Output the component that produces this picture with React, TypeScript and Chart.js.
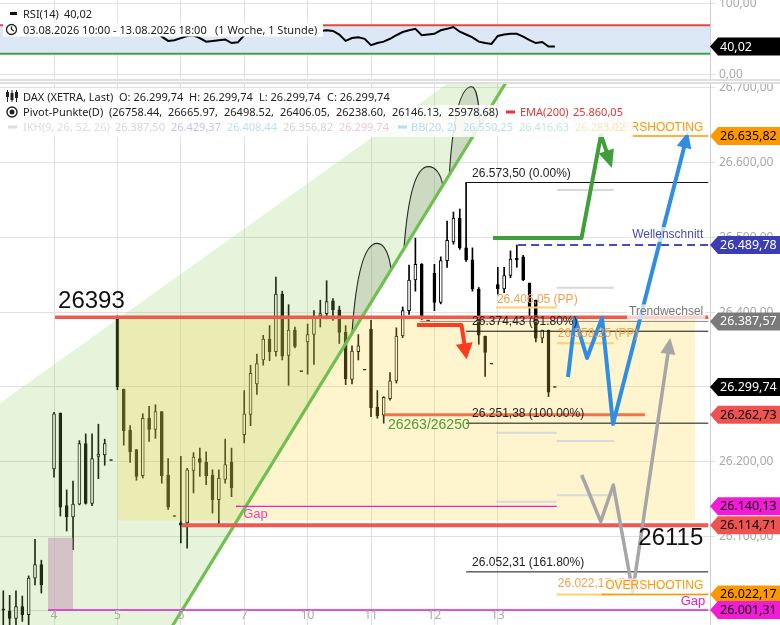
import React, { useEffect, useRef } from "react";
import { Chart, registerables } from "chart.js";

Chart.register(...registerables);

const SANS = '"Noto Sans", "Open Sans", sans-serif';
const ARIAL = '"Liberation Sans", Arial, sans-serif';

// ---------- axes ----------
const DAY_SLOTS = [10, 20, 30, 40, 50, 60, 70, 80];
const DAY_LABELS = ["4", "5", "6", "7", "10", "11", "12", "13"];
const PRICE_TICKS = [26000, 26100, 26200, 26300, 26400, 26500, 26600, 26700];
const RSI_TICKS = [0, 100];
const X_MIN = 1.48;
const X_MAX = 113.47;
const P_MIN = 25981.22;
const P_MAX = 26705.35;
const R_MIN = -4.23;
const R_MAX = 105.63;

// ---------- hourly candles (10 slots per trading day) ----------
const SLOTS = [2, 3, 4, 5, 6, 7, 8,
  10, 11, 12, 13, 14, 15, 16, 17, 18, 19,
  20, 21, 22, 23, 24, 25, 26, 27, 28, 29,
  30, 31, 32, 33, 34, 35, 36, 37, 38, 39,
  40, 41, 42, 43, 44, 45, 46, 47, 48, 49,
  50, 51, 52, 53, 54, 55, 56, 57, 58, 59,
  60, 61, 62, 63, 64, 65, 66, 67, 68, 69,
  70, 71, 72, 73, 74, 75, 76, 77, 78, 79,
  80, 81, 82, 83, 84, 85, 86, 87, 88, 89];
const OPEN = [26003, 26000, 25990, 26006, 25995, 26044, 26062,
  26190, 26265, 26141, 26126, 26143, 26224, 26144, 26207, 26209, 26202,
  26393, 26297, 26242, 26216, 26181, 26258, 26243, 26267, 26182, 26127,
  26118, 26118, 26188, 26204, 26199, 26182, 26149, 26176, 26199, 26140,
  26236, 26263, 26304, 26336, 26364, 26347, 26424, 26342, 26376, 26321,
  26360, 26370, 26395, 26398, 26415, 26403, 26373, 26310, 26347, 26323,
  26377, 26273, 26262, 26284, 26308, 26368, 26402, 26443, 26464, 26389,
  26452, 26413, 26469, 26494, 26526, 26486, 26470, 26431, 26368, 26331,
  26437, 26431, 26449, 26472, 26474, 26439, 26416, 26365, 26376, 26299.74];
const HIGH = [26027, 26021, 26027, 26020, 26047, 26096, 26068,
  26266, 26265, 26162, 26174, 26228, 26237, 26237, 26250, 26230, 26202,
  26395, 26297, 26248, 26216, 26264, 26274, 26276, 26267, 26204, 26127,
  26207, 26191, 26212, 26218, 26213, 26189, 26189, 26230, 26218, 26140,
  26295, 26329, 26344, 26369, 26382, 26447, 26428, 26410, 26380, 26321,
  26384, 26402, 26416, 26442, 26418, 26408, 26382, 26355, 26370, 26323,
  26389, 26295, 26287, 26319, 26379, 26407, 26463, 26499, 26465, 26389,
  26464, 26474, 26522, 26534, 26538, 26573.5, 26486, 26433, 26368, 26331,
  26460, 26460, 26482, 26489.78, 26476, 26439, 26416, 26376, 26376, 26299.74];
const LOW = [25978, 25978, 25978, 25986, 25978, 26035, 26024,
  26179, 26127, 26107, 26082, 26142, 26143, 26141, 26177, 26195, 26202,
  26296, 26222, 26199, 26175, 26178, 26227, 26231, 26171, 26136, 26127,
  26091, 26084, 26158, 26180, 26169, 26131, 26113, 26171, 26153, 26140,
  26225, 26248, 26290, 26329, 26335, 26341, 26336, 26302, 26352, 26321,
  26317, 26330, 26380, 26391, 26389, 26358, 26303, 26304, 26336, 26323,
  26260, 26258, 26251.38, 26282, 26305, 26366, 26397, 26428, 26390, 26389,
  26402, 26411, 26460, 26491, 26484, 26468, 26428, 26357, 26314, 26331,
  26424, 26426, 26446, 26460, 26442, 26394, 26360, 26359, 26287, 26299.74];
const CLOSE = [26001, 25990, 26006, 25995, 26044, 26062, 26035,
  26264, 26139, 26126, 26143, 26224, 26144, 26204, 26210, 26224, 26202,
  26300, 26241, 26213, 26180, 26258, 26243, 26267, 26181, 26139, 26127,
  26115, 26189, 26206, 26199, 26181, 26149, 26178, 26196, 26165, 26140,
  26264, 26318, 26331, 26364, 26347, 26424, 26341, 26376, 26354, 26321,
  26370, 26393, 26398, 26414, 26403, 26373, 26311, 26348, 26355, 26323,
  26272, 26261, 26286, 26308, 26368, 26402, 26443, 26464, 26393, 26389,
  26413, 26469, 26496, 26526, 26486, 26470, 26431, 26369, 26346, 26331,
  26431, 26449, 26471, 26470, 26443, 26407, 26365, 26376, 26293, 26299.74];
const RSI = [62, 60, 62, 60, 64, 66, 63,
  68, 58, 57, 58, 62, 58, 61, 62, 63, 62,
  70, 64, 60, 57, 62, 60, 62, 54, 48, 49,
  52, 55, 56, 52, 47, 48, 49, 50, 45, 46,
  56, 60, 62, 65, 63, 68, 60, 62, 60, 58,
  59, 61, 62, 63, 62, 57, 48, 52, 53, 51,
  42, 45, 47, 51, 56, 60.5, 63, 65, 56, 57,
  58, 63, 65, 67.6, 61, 57, 53, 47, 45, 43.7,
  55, 57, 58, 58, 54, 49, 45, 46.5, 40, 40.02];

// ---------- drawn levels / annotations (slot, price) ----------
const EDGE = 113.2;
const RESIST = 26393;
const GAP_TOP = 26140.13;
const GAP_LINE = 26114.71;
const GAP_LOW = 26001.31;
const SUPPORT = 26262.73;
const WELLEN = 26489.78;
const TREND_W = 26387.57;
const UEBER = 26635.82;
const OVER = 26022.17;
const LAST = 26299.74;
const FIB_PRICES = [26573.5, 26374.43, 26251.38, 26052.31];
const FIB_PCT = ["0.00%", "61.80%", "100.00%", "161.80%"];
const PIVOT_D13 = [26498.52, 26406.05, 26238.6, 26146.13];
const PIVOT_NEXT = [26563.6, 26432.7, 26358.25, 26227.5, 26155.0, 26022.17];
const CHANNEL = [[-5, 26239], [80, 26754], [84.66, 26754], [26.51, 25950], [-5, 25950]];
const TREND = [[26.51, 25950], [84.66, 26754]];
const ZONE = [20.1, 111.1, 26393, 26121];
const GAP_BOX = [9.05, 13.0, 26098, 26001.31];
const ARCS = [[57.0, 60.95, 26492, 63.15], [65.2, 69.04, 26594.7, 71.31], [72.35, 75.88, 26701.7, 77.19]];
const RED_ARROW = [[67.26, 26382.8], [74.27, 26382.8], [75.09, 26336.9]];
const GREEN_ARROW = [[79.24, 26499.2], [93.2, 26499.2], [96.28, 26637.1], [98.0, 26592.9]];
const BLUE_ARROW = [[91.07, 26313.2], [92.18, 26392.1], [94.07, 26338.6], [96.44, 26392.1], [98.17, 26250.3], [110.0, 26641.1]];
const GRAY_ARROW = [[93.23, 26182], [96.23, 26119.5], [98.22, 26168.6], [101.28, 26025.8], [107.2, 26365.4]];
const TAGS = [
  [UEBER, "#ff9800", "#000"],
  [WELLEN, "#3d3db3", "#fff"],
  [TREND_W, "#7a7a7a", "#fff"],
  [LAST, "#000000", "#fff"],
  [SUPPORT, "#ef5350", "#000"],
  [GAP_TOP, "#f21bd6", "#000"],
  [GAP_LINE, "#ef5350", "#000"],
  [OVER, "#ff9800", "#000"],
  [GAP_LOW, "#f21bd6", "#000"],
];
const RSI_LAST = 40.02;

function fmtDE(v: number) {
  const parts = v.toFixed(2).split(".");
  return parts[0].replace(/\B(?=(\d{3})+(?!\d))/g, ".") + "," + parts[1];
}

function txt(ctx: any, s: string, x: number, y: number, color: string, font: string, align = "left") {
  ctx.font = font;
  ctx.fillStyle = color;
  ctx.textAlign = align;
  ctx.textBaseline = "alphabetic";
  ctx.fillText(s, x, y);
}

function bgTxt(ctx: any, s: string, xr: number, y: number, color: string, font: string) {
  ctx.font = font;
  const w = ctx.measureText(s).width;
  ctx.fillStyle = "rgba(255,255,255,0.72)";
  ctx.fillRect(xr - w - 2, y - 11, w + 4, 15);
  txt(ctx, s, xr, y, color, font, "right");
}

function hline(ctx: any, x0: number, x1: number, y: number, color: string, w: number, dash: number[] = []) {
  ctx.strokeStyle = color;
  ctx.lineWidth = w;
  ctx.setLineDash(dash);
  ctx.beginPath();
  ctx.moveTo(x0, y);
  ctx.lineTo(x1, y);
  ctx.stroke();
  ctx.setLineDash([]);
}

function arrow(ctx: any, pts: number[][], color: string, w: number, hl: number, hw: number) {
  const n = pts.length;
  const [tx, ty] = pts[n - 1];
  const [px, py] = pts[n - 2];
  const a = Math.atan2(ty - py, tx - px);
  const c = Math.cos(a), s = Math.sin(a);
  ctx.strokeStyle = color;
  ctx.lineWidth = w;
  ctx.lineJoin = "round";
  ctx.lineCap = "butt";
  ctx.beginPath();
  ctx.moveTo(pts[0][0], pts[0][1]);
  for (let i = 1; i < n - 1; i++) ctx.lineTo(pts[i][0], pts[i][1]);
  ctx.lineTo(tx - c * hl * 0.85, ty - s * hl * 0.85);
  ctx.stroke();
  ctx.fillStyle = color;
  ctx.beginPath();
  ctx.moveTo(tx, ty);
  ctx.lineTo(tx - c * hl + s * hw / 2, ty - s * hl - c * hw / 2);
  ctx.lineTo(tx - c * hl - s * hw / 2, ty - s * hl + c * hw / 2);
  ctx.closePath();
  ctx.fill();
}

function tag(ctx: any, x0: number, y: number, bg: string, fg: string, s: string) {
  ctx.fillStyle = bg;
  ctx.beginPath();
  ctx.moveTo(x0, y);
  ctx.lineTo(x0 + 8, y - 9);
  ctx.lineTo(780, y - 9);
  ctx.lineTo(780, y + 9);
  ctx.lineTo(x0 + 8, y + 9);
  ctx.closePath();
  ctx.fill();
  ctx.fillStyle = fg;
  ctx.font = `12.5px ${SANS}`;
  ctx.textAlign = "left";
  ctx.textBaseline = "middle";
  ctx.fillText(s, x0 + 10, y + 0.5);
}

const trendAt = (slot: number) =>
  TREND[0][1] + (slot - TREND[0][0]) * (TREND[1][1] - TREND[0][1]) / (TREND[1][0] - TREND[0][0]);

const mainOverlay = {
  id: "mainOverlay",
  afterDatasetsDraw(chart: any) {
    const { ctx, chartArea: ca } = chart;
    const xs = chart.scales.x, ys = chart.scales.y;
    const X = (v: number) => xs.getPixelForValue(v);
    const Y = (v: number) => ys.getPixelForValue(v);
    const P = (pts: number[][]) => pts.map((p) => [X(p[0]), Y(p[1])]);
    const R = X(EDGE);
    ctx.save();
    ctx.beginPath();
    ctx.rect(ca.left, ca.top, ca.right - ca.left, ca.bottom - ca.top);
    ctx.clip();

    // channel
    ctx.fillStyle = "rgba(136,204,91,0.22)";
    ctx.beginPath();
    P(CHANNEL).forEach((p, i) => (i ? ctx.lineTo(p[0], p[1]) : ctx.moveTo(p[0], p[1])));
    ctx.closePath();
    ctx.fill();
    // yellow zone
    ctx.fillStyle = "rgba(250,215,60,0.25)";
    ctx.fillRect(X(ZONE[0]), Y(ZONE[2]), X(ZONE[1]) - X(ZONE[0]), Y(ZONE[3]) - Y(ZONE[2]));
    // gap box
    ctx.fillStyle = "rgba(200,160,185,0.6)";
    ctx.fillRect(X(GAP_BOX[0]), Y(GAP_BOX[2]), X(GAP_BOX[1]) - X(GAP_BOX[0]), Y(GAP_BOX[3]) - Y(GAP_BOX[2]));

    // arcs
    ARCS.forEach(([s0, sp, pp, s1]) => {
      const Sx = X(s0), Sy = Y(trendAt(s0));
      const Px = X(sp), Py = Y(pp);
      const Ex = X(s1), Ey = Y(trendAt(s1));
      ctx.beginPath();
      ctx.moveTo(Sx, Sy);
      ctx.bezierCurveTo(Sx + 0.15 * (Px - Sx), Sy - 0.6 * (Sy - Py), Px - 0.55 * (Px - Sx), Py, Px, Py);
      ctx.bezierCurveTo(Px + 0.55 * (Ex - Px), Py, Ex - 0.1 * (Ex - Px), Ey - 0.55 * (Ey - Py), Ex, Ey);
      ctx.fillStyle = "rgba(95,110,80,0.2)";
      ctx.strokeStyle = "#222";
      ctx.lineWidth = 1.1;
      ctx.stroke();
      ctx.closePath();
      ctx.fill();
    });
    // trendline
    const T = P(TREND);
    ctx.strokeStyle = "#6fc050";
    ctx.lineWidth = 3.2;
    ctx.beginPath();
    ctx.moveTo(T[0][0], T[0][1]);
    ctx.lineTo(T[1][0], T[1][1]);
    ctx.stroke();

    // pivot lines
    PIVOT_D13.forEach((p, i) => hline(ctx, X(79.7), X(89.3), Y(p), i === 1 ? "#ffcf70" : "#d9d9d9", 2));
    PIVOT_NEXT.forEach((p, i) => hline(ctx, X(89.3), X(98.3), Y(p), i === 2 || i === 5 ? "#ffcf70" : "#d9d9d9", 2));

    // fib lines
    FIB_PRICES.forEach((p) => hline(ctx, X(75), R, Y(p), "#111", 1));
    hline(ctx, X(67.7), R, Y(TREND_W), "#8a8a8a", 1);

    // levels
    hline(ctx, X(10.16), R, Y(RESIST), "#ef5a4d", 3.5);
    hline(ctx, X(30.2), R, Y(GAP_LINE), "#ef5a4d", 4);
    hline(ctx, X(38.9), X(89.3), Y(GAP_TOP), "#ee22cc", 1.3);
    hline(ctx, X(9.05), R, Y(GAP_LOW), "#e01ed0", 1.6);
    hline(ctx, X(62.2), X(103.2), Y(SUPPORT), "#f2744f", 3);
    hline(ctx, X(100.9), R, Y(UEBER), "#ff9800", 1.6);
    hline(ctx, X(96.4), R, Y(OVER), "#ff9800", 1.6);
    hline(ctx, X(83.2), R, Y(WELLEN), "#4848c8", 2, [8, 5]);

    // arrows
    arrow(ctx, P(RED_ARROW), "#ff3b1f", 4, 16, 17);
    arrow(ctx, P(GREEN_ARROW), "#3f9f3a", 4, 18, 16);
    arrow(ctx, P(BLUE_ARROW), "#2f8de4", 4, 16, 15);
    arrow(ctx, P(GRAY_ARROW), "#a6a6a6", 3.5, 16, 15);

    // labels
    const F12 = `12px ${ARIAL}`;
    FIB_PRICES.forEach((p, i) => txt(ctx, `${fmtDE(p)} (${FIB_PCT[i]})`, X(75) + 6, Y(p) - 6, "#222", F12));
    txt(ctx, `${fmtDE(PIVOT_D13[1])} (PP)`, X(79.7) + 1, Y(PIVOT_D13[1]) - 5, "#f5a04a", F12);
    txt(ctx, `${fmtDE(PIVOT_NEXT[2])} (PP)`, X(89.3) + 1, Y(PIVOT_NEXT[2]) - 6, "#f5a04a", F12);
    txt(ctx, `${fmtDE(PIVOT_NEXT[5])} (PP)`, X(89.3) + 1, Y(PIVOT_NEXT[5]) - 7, "#f5a04a", F12);
    bgTxt(ctx, "Wellenschnitt", R - 5, Y(WELLEN) - 7, "#4a4ab8", F12);
    bgTxt(ctx, "Trendwechsel", R - 5, Y(TREND_W) - 6, "#777", F12);
    bgTxt(ctx, "ÜBERSHOOTING", R - 5, Y(UEBER) - 5, "#ff9800", F12);
    bgTxt(ctx, "OVERSHOOTING", R - 5, Y(OVER) - 5, "#ff9800", F12);
    txt(ctx, "Gap", R - 3, Y(GAP_LOW) - 5, "#e01ed0", `13px ${ARIAL}`, "right");
    txt(ctx, "Gap", X(38.9) + 6, Y(GAP_TOP) + 12, "#ee44bb", `13px ${ARIAL}`);
    txt(ctx, "26263/26250", X(62.2) + 3, Y(SUPPORT) + 14, "#4aa032", `14px ${ARIAL}`);
    txt(ctx, "26393", X(10.16) + 3, Y(RESIST) - 9, "#111", `24px ${ARIAL}`);
    txt(ctx, "26115", R - 5, Y(GAP_LINE) + 20, "#111", `24px ${ARIAL}`, "right");

    // x labels
    ctx.font = `12px ${SANS}`;
    ctx.fillStyle = "#aaaaaa";
    ctx.textAlign = "center";
    ctx.textBaseline = "middle";
    DAY_SLOTS.forEach((s, i) => ctx.fillText(DAY_LABELS[i], X(s), ca.bottom - 9.5));
    ctx.restore();

    // header legend
    const LF = `11px ${SANS}`;
    ctx.fillStyle = "rgba(255,255,255,0.85)";
    ctx.fillRect(0, 5, 395, 16);
    ctx.fillRect(0, 21, 628, 16);
    ctx.fillRect(0, 37, 633, 16);
    // candle icon
    ctx.strokeStyle = "#222";
    ctx.fillStyle = "#222";
    ctx.lineWidth = 1;
    [[7, 8, 12], [11.5, 9, 14], [16, 8, 13]].forEach(([cx, a, b], i) => {
      ctx.beginPath();
      ctx.moveTo(cx + 0.5, 6);
      ctx.lineTo(cx + 0.5, 18);
      ctx.stroke();
      if (i === 1) ctx.fillRect(cx - 1, a, 3, b - a + 2);
      else ctx.strokeRect(cx - 0.5, a + 0.5, 2, b - a);
    });
    txt(ctx, "DAX (XETRA, Last)", 23, 16.5, "#222", LF);
    txt(ctx, "O: 26.299,74", 119, 16.5, "#222", LF);
    txt(ctx, "H: 26.299,74", 189, 16.5, "#222", LF);
    txt(ctx, "L: 26.299,74", 259, 16.5, "#222", LF);
    txt(ctx, "C: 26.299,74", 327, 16.5, "#222", LF);
    // pivot icon
    ctx.beginPath();
    ctx.arc(12, 28, 5, 0, Math.PI * 2);
    ctx.lineWidth = 1.4;
    ctx.stroke();
    ctx.beginPath();
    ctx.arc(12, 28, 2.5, 0, Math.PI * 2);
    ctx.fill();
    txt(ctx, "Pivot-Punkte(D)", 23, 32, "#222", LF);
    const piv = ["(26758.44,", "26665.97,", "26498.52,", "26406.05,", "26238.60,", "26146.13,", "25978.68)"];
    const pivX = [109, 168, 224, 280, 336, 392, 448];
    piv.forEach((s, i) => txt(ctx, s, pivX[i], 32, "#222", LF));
    ctx.fillStyle = "#e53935";
    ctx.fillRect(506, 26.5, 9, 3);
    txt(ctx, "EMA(200)", 520, 32, "#e53935", LF);
    txt(ctx, "25.860,05", 573, 32, "#e53935", LF);
    ctx.fillStyle = "#dddddd";
    ctx.fillRect(8, 41.5, 9, 3);
    txt(ctx, "IKH(9, 26, 52, 26)", 23, 47, "#dcdcdc", LF);
    const ikh = [["26.387,50", 115, "#d6d6d6"], ["26.429,37", 171, "#cdbdf0"], ["26.408,44", 227, "#b9e0f2"],
      ["26.356,82", 283, "#d6d0dc"], ["26.299,74", 339, "#eac8da"]];
    ikh.forEach(([s, x, c]: any) => txt(ctx, s, x, 47, c, LF));
    ctx.fillStyle = "#b8dcf2";
    ctx.fillRect(398, 41.5, 9, 3);
    txt(ctx, "BB(20, 2)", 411, 47, "#b8dcf2", LF);
    txt(ctx, "26.550,25", 463, 47, "#b8dcf2", LF);
    txt(ctx, "26.416,63", 519, 47, "#c3e6dc", LF);
    txt(ctx, "26.283,02", 575, 47, "#f5e6c6", LF);

    // price tags
    TAGS.forEach(([p, bg, fg]: any) => tag(ctx, ca.right, Y(p), bg, fg, fmtDE(p)));
  },
};

const rsiOverlay = {
  id: "rsiOverlay",
  beforeDatasetsDraw(chart: any) {
    const { ctx, chartArea: ca } = chart;
    const ys = chart.scales.y;
    const y70 = ys.getPixelForValue(70), y30 = ys.getPixelForValue(30);
    ctx.save();
    ctx.fillStyle = "#dce8f5";
    ctx.fillRect(ca.left, y70, ca.right - ca.left, y30 - y70);
    hline(ctx, ca.left, ca.right, y70, "#e5483f", 2);
    hline(ctx, ca.left, ca.right, y30, "#43a047", 2);
    ctx.restore();
  },
  afterDatasetsDraw(chart: any) {
    const { ctx, chartArea: ca } = chart;
    const ys = chart.scales.y;
    const LF = `11px ${SANS}`;
    ctx.save();
    ctx.fillStyle = "#111";
    ctx.fillRect(10, 12, 7, 3);
    txt(ctx, "RSI(14)", 23, 17.5, "#222", LF);
    txt(ctx, "40,02", 64, 17.5, "#222", LF);
    ctx.fillStyle = "#ffffff";
    ctx.fillRect(3, 22.5, 320, 14);
    ctx.strokeStyle = "#222";
    ctx.lineWidth = 1.3;
    ctx.beginPath();
    ctx.arc(11.5, 29.5, 5, 0, Math.PI * 2);
    ctx.stroke();
    ctx.beginPath();
    ctx.moveTo(11.5, 26.5);
    ctx.lineTo(11.5, 29.5);
    ctx.lineTo(14, 31);
    ctx.stroke();
    txt(ctx, "03.08.2026 10:00 - 13.08.2026 18:00", 23, 33.5, "#222", LF);
    txt(ctx, "(1 Woche, 1 Stunde)", 215, 33.5, "#222", LF);
    // divider
    ctx.fillStyle = "#ffffff";
    ctx.fillRect(0, 79, 780, 5);
    hline(ctx, 0, 780, 80, "#d4d4d4", 1.5);
    hline(ctx, 0, 780, 83, "#d4d4d4", 1.5);
    tag(ctx, ca.right, ys.getPixelForValue(RSI_LAST), "#000", "#fff", fmtDE(RSI_LAST));
    ctx.restore();
  },
};

function xAxis() {
  return {
    type: "linear",
    min: X_MIN,
    max: X_MAX,
    offset: false,
    afterBuildTicks: (s: any) => {
      s.ticks = DAY_SLOTS.map((v) => ({ value: v }));
    },
    afterFit: (s: any) => {
      s.height = 0;
      s.paddingLeft = 0;
      s.paddingRight = 0;
    },
    ticks: { display: false },
    grid: { color: "#e0e0e0", drawTicks: false, offset: false },
    border: { display: false },
  };
}

function yAxis(min: number, max: number, ticks: number[]) {
  return {
    type: "linear",
    position: "right",
    min,
    max,
    afterBuildTicks: (s: any) => {
      s.ticks = ticks.map((v) => ({ value: v }));
    },
    afterFit: (s: any) => {
      s.width = 70;
      s.paddingTop = 0;
      s.paddingBottom = 0;
    },
    ticks: {
      callback: (v: any) => fmtDE(Number(v)),
      color: "#a9a9a9",
      font: { family: SANS, size: 12 },
      padding: 4,
    },
    grid: { color: "#e0e0e0", tickLength: 5, drawTicks: true },
    border: { color: "#cfcfcf" },
  };
}

export default function App() {
  const rsiRef = useRef<HTMLCanvasElement>(null);
  const mainRef = useRef<HTMLCanvasElement>(null);

  useEffect(() => {
    const bodies = SLOTS.map((s, i) => {
      const lo = Math.min(OPEN[i], CLOSE[i]);
      const hi = Math.max(OPEN[i], CLOSE[i]);
      const mid = (lo + hi) / 2;
      const span = Math.max(hi - lo, 1.2);
      return { x: s, y: [mid - span / 2, mid + span / 2] };
    });
    const bodyColors = SLOTS.map((_, i) => (CLOSE[i] > OPEN[i] ? "#ffffff" : "#000000"));
    const wicks = SLOTS.map((s, i) => ({ x: s, y: [LOW[i], HIGH[i]] }));

    const main = new Chart(mainRef.current as any, {
      type: "bar",
      data: {
        datasets: [
          {
            data: bodies as any,
            backgroundColor: bodyColors,
            borderColor: "#000",
            borderWidth: 1,
            borderSkipped: false,
            barThickness: 3,
            grouped: false,
            order: 0,
          } as any,
          {
            data: wicks as any,
            backgroundColor: "#000",
            borderWidth: 0,
            barThickness: 1,
            grouped: false,
            order: 1,
          } as any,
        ],
      },
      options: {
        animation: false,
        responsive: false,
        events: [],
        layout: { padding: 0, autoPadding: false },
        plugins: { legend: { display: false }, tooltip: { enabled: false } },
        scales: { x: xAxis() as any, y: yAxis(P_MIN, P_MAX, PRICE_TICKS) as any },
      },
      plugins: [mainOverlay],
    });

    const rsi = new Chart(rsiRef.current as any, {
      type: "line",
      data: {
        datasets: [
          {
            data: SLOTS.map((s, i) => ({ x: s, y: RSI[i] })) as any,
            borderColor: "#000",
            borderWidth: 2,
            pointRadius: 0,
            tension: 0,
          },
        ],
      },
      options: {
        animation: false,
        responsive: false,
        events: [],
        layout: { padding: { top: 0, left: 0, right: 0, bottom: 6 }, autoPadding: false },
        plugins: { legend: { display: false }, tooltip: { enabled: false } },
        scales: { x: xAxis() as any, y: yAxis(R_MIN, R_MAX, RSI_TICKS) as any },
      },
      plugins: [rsiOverlay],
    });

    return () => {
      main.destroy();
      rsi.destroy();
    };
  }, []);

  return (
    <div style={{ position: "fixed", left: 0, top: 0, width: 780, height: 625, background: "#fff" }}>
      <canvas ref={rsiRef} width={780} height={84} style={{ display: "block", width: 780, height: 84 }} />
      <canvas ref={mainRef} width={780} height={541} style={{ display: "block", width: 780, height: 541 }} />
    </div>
  );
}
